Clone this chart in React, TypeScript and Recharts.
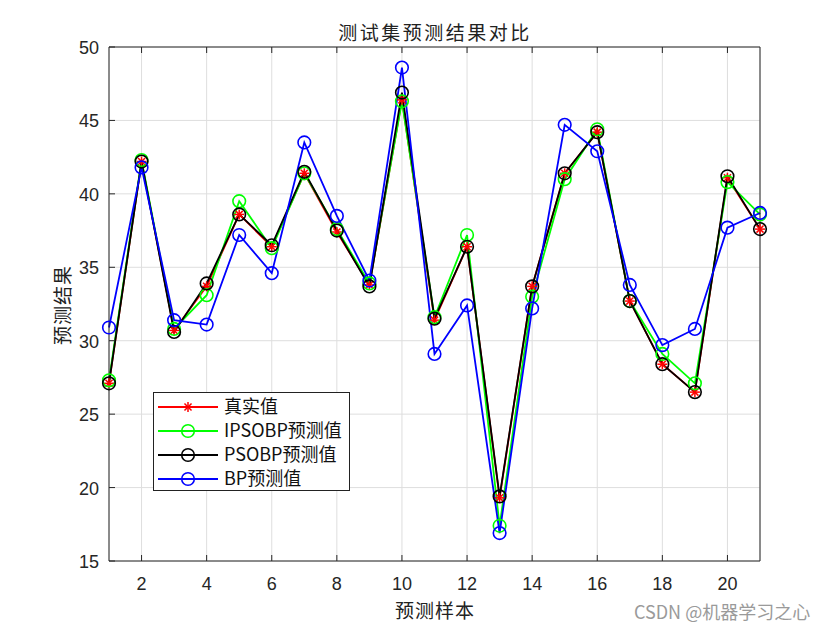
import React from 'react';
import { LineChart, Line, XAxis, YAxis, CartesianGrid } from 'recharts';

const samples = [1, 2, 3, 4, 5, 6, 7, 8, 9, 10, 11, 12, 13, 14, 15, 16, 17, 18, 19, 20, 21];
const trueVals = [27.1, 42.2, 30.7, 33.7, 38.6, 36.4, 41.4, 37.4, 33.8, 46.4, 31.4, 36.4, 19.3, 33.7, 41.4, 44.2, 32.7, 28.4, 26.5, 41.1, 37.6];
const ipsoVals = [27.3, 42.3, 30.8, 33.1, 39.5, 36.3, 41.4, 37.6, 33.9, 46.3, 31.6, 37.2, 17.4, 33.0, 41.0, 44.4, 32.7, 29.1, 27.1, 40.8, 38.6];
const psoVals = [27.1, 42.2, 30.6, 33.9, 38.6, 36.5, 41.5, 37.5, 33.7, 46.9, 31.5, 36.4, 19.4, 33.7, 41.4, 44.2, 32.7, 28.4, 26.5, 41.2, 37.6];
const bpVals = [30.9, 41.8, 31.4, 31.1, 37.2, 34.6, 43.5, 38.5, 34.1, 48.6, 29.1, 32.4, 16.9, 32.2, 44.7, 42.9, 33.8, 29.7, 30.8, 37.7, 38.7];

const xTicks = [2, 4, 6, 8, 10, 12, 14, 16, 18, 20];
const yTicks = [15, 20, 25, 30, 35, 40, 45, 50];

const seriesNames = ['真实值', 'IPSOBP预测值', 'PSOBP预测值', 'BP预测值'];
const seriesColors = ['#ff0000', '#00ff00', '#000000', '#0000ff'];

const data = samples.map((s, i) => ({
  x: s,
  t: trueVals[i],
  ip: ipsoVals[i],
  pso: psoVals[i],
  bp: bpVals[i],
}));

const TICK_FONT = '"Liberation Sans", Arial, sans-serif';
const CJK_FONT = '"Noto Sans CJK SC", "Liberation Sans", sans-serif';
const AXIS_COLOR = '#262626';
const LW = 1.8;

const Asterisk = ({ cx, cy, color }: any) => {
  if (cx == null || cy == null) return null;
  const r = 5;
  const d = r * 0.707;
  return (
    <g stroke={color} strokeWidth={1.5}>
      <line x1={cx - r} y1={cy} x2={cx + r} y2={cy} />
      <line x1={cx} y1={cy - r} x2={cx} y2={cy + r} />
      <line x1={cx - d} y1={cy - d} x2={cx + d} y2={cy + d} />
      <line x1={cx - d} y1={cy + d} x2={cx + d} y2={cy - d} />
    </g>
  );
};

const makeCircle = (color: string) => (props: any) => {
  const { cx, cy, index } = props;
  if (cx == null || cy == null) return <g key={index} />;
  return <circle key={index} cx={cx} cy={cy} r={6.3} fill="none" stroke={color} strokeWidth={1.6} />;
};

const BottomTick = ({ x, y, payload }: any) => (
  <g>
    <line x1={x} y1={y} x2={x} y2={y - 6} stroke={AXIS_COLOR} strokeWidth={1} />
    <text x={x} y={y + 29} textAnchor="middle" fontSize={18} fontFamily={TICK_FONT} fill="#262626">
      {payload.value}
    </text>
  </g>
);
const TopTick = ({ x, y }: any) => (
  <line x1={x} y1={y} x2={x} y2={y + 6} stroke={AXIS_COLOR} strokeWidth={1} />
);
const LeftTick = ({ x, y, payload }: any) => (
  <g>
    <line x1={x} y1={y} x2={x + 6} y2={y} stroke={AXIS_COLOR} strokeWidth={1} />
    <text x={x - 10} y={y + 7} textAnchor="end" fontSize={18} fontFamily={TICK_FONT} fill="#262626">
      {payload.value}
    </text>
  </g>
);
const RightTick = ({ x, y }: any) => (
  <line x1={x} y1={y} x2={x - 6} y2={y} stroke={AXIS_COLOR} strokeWidth={1} />
);

const LegendBox = () => {
  const rowH = 24;
  return (
    <svg width={198} height={100} style={{ display: 'block' }}>
      <rect x={0.5} y={0.5} width={196} height={98} fill="#fff" stroke="#222" strokeWidth={1} />
      {seriesNames.map((n, i) => {
        const cy = 15 + i * rowH;
        const c = seriesColors[i];
        return (
          <g key={n}>
            <line x1={5} y1={cy} x2={65} y2={cy} stroke={c} strokeWidth={LW} />
            {i === 0 ? (
              <Asterisk cx={35} cy={cy} color={c} />
            ) : (
              <circle cx={35} cy={cy} r={6.3} fill="none" stroke={c} strokeWidth={1.6} />
            )}
            <text x={71} y={cy + 6} fontSize={18} fontFamily={CJK_FONT} fill="#111">
              {n}
            </text>
          </g>
        );
      })}
    </svg>
  );
};

export default function App() {
  return (
    <div style={{ position: 'absolute', left: 0, top: 0, width: 840, height: 630, background: '#fff' }}>
      <LineChart
        width={840}
        height={630}
        data={data}
        margin={{ top: 46, right: 79, bottom: 68, left: 108 }}
      >
        <CartesianGrid stroke="#dedede" strokeWidth={1} />
        <XAxis
          dataKey="x"
          type="number"
          domain={[1, 21]}
          ticks={xTicks}
          height={1}
          tickSize={0}
          tickMargin={0}
          tickLine={false}
          axisLine={{ stroke: AXIS_COLOR }}
          tick={<BottomTick />}
          interval={0}
        />
        <XAxis
          xAxisId="top"
          orientation="top"
          dataKey="x"
          type="number"
          domain={[1, 21]}
          ticks={xTicks}
          height={1}
          tickSize={0}
          tickMargin={0}
          tickLine={false}
          axisLine={{ stroke: AXIS_COLOR }}
          tick={<TopTick />}
          interval={0}
        />
        <YAxis
          type="number"
          domain={[15, 50]}
          ticks={yTicks}
          width={1}
          tickSize={0}
          tickMargin={0}
          tickLine={false}
          axisLine={{ stroke: AXIS_COLOR }}
          tick={<LeftTick />}
          interval={0}
        />
        <YAxis
          yAxisId="right"
          orientation="right"
          type="number"
          domain={[15, 50]}
          ticks={yTicks}
          width={1}
          tickSize={0}
          tickMargin={0}
          tickLine={false}
          axisLine={{ stroke: AXIS_COLOR }}
          tick={<RightTick />}
          interval={0}
        />
        <Line
          dataKey="t"
          stroke={seriesColors[0]}
          strokeWidth={LW}
          isAnimationActive={false}
          dot={(p: any) => <Asterisk key={p.index} cx={p.cx} cy={p.cy} color={seriesColors[0]} />}
          activeDot={false}
        />
        <Line
          dataKey="ip"
          stroke={seriesColors[1]}
          strokeWidth={LW}
          isAnimationActive={false}
          dot={makeCircle(seriesColors[1])}
          activeDot={false}
        />
        <Line
          dataKey="pso"
          stroke={seriesColors[2]}
          strokeWidth={LW}
          isAnimationActive={false}
          dot={makeCircle(seriesColors[2])}
          activeDot={false}
        />
        <Line
          dataKey="bp"
          stroke={seriesColors[3]}
          strokeWidth={LW}
          isAnimationActive={false}
          dot={makeCircle(seriesColors[3])}
          activeDot={false}
        />
      </LineChart>
      <div style={{ position: 'absolute', left: 153, top: 392 }}>
        <LegendBox />
      </div>
      <div style={{ position: 'absolute', left: 0, width: 870, top: 18, textAlign: 'center', fontFamily: CJK_FONT, fontSize: 19, letterSpacing: 2.5, color: '#222', lineHeight: '28px' }}>
        测试集预测结果对比
      </div>
      <div style={{ position: 'absolute', left: 0, width: 870, top: 596, textAlign: 'center', fontFamily: CJK_FONT, fontSize: 19, letterSpacing: 1, color: '#222', lineHeight: '28px' }}>
        预测样本
      </div>
      <div style={{ position: 'absolute', left: 62, top: 305, transform: 'translate(-50%, -50%) rotate(-90deg)', fontFamily: CJK_FONT, fontSize: 19, letterSpacing: 1, color: '#222', lineHeight: '28px', whiteSpace: 'nowrap' }}>
        预测结果
      </div>
      <div style={{ position: 'absolute', left: 634, top: 598, fontFamily: CJK_FONT, fontSize: 18, color: '#9a9a9a', lineHeight: '26px', whiteSpace: 'nowrap' }}>
        CSDN @机器学习之心
      </div>
    </div>
  );
}
